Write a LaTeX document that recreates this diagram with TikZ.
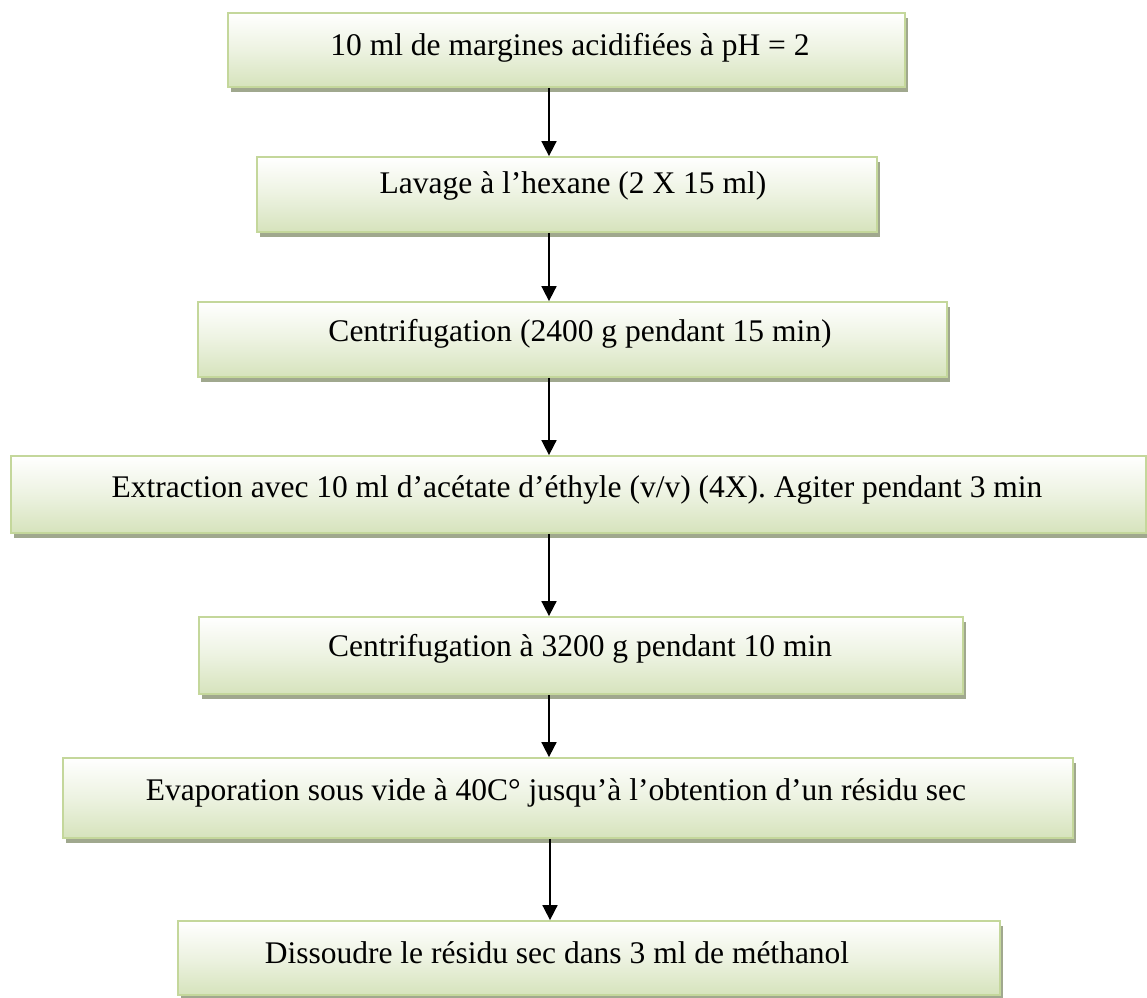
\documentclass[tikz,border=0pt]{standalone}
\usepackage{fontspec}
\setmainfont{Liberation Serif}
\usetikzlibrary{arrows.meta,shadows}
\definecolor{boxborder}{RGB}{196,215,155}
\definecolor{boxbottom}{RGB}{214,227,188}
\definecolor{boxtop}{RGB}{255,255,255}
\definecolor{shadowc}{RGB}{160,168,142}
\tikzset{
  stepbox/.style={rectangle, draw=boxborder, line width=1.8pt, inner sep=0pt,
    top color=boxtop, bottom color=boxbottom, middle color=boxtop!55!boxbottom,
    drop shadow={shadow xshift=3pt, shadow yshift=-5pt, fill=shadowc, opacity=1}},
  steptext/.style={anchor=base, inner sep=0pt, font=\fontsize{31.5}{36}\selectfont},
  flowarrow/.style={line width=1.7pt, -{Triangle[length=15pt,width=15pt]}}
}
\begin{document}
\begin{tikzpicture}[x=1pt,y=-1pt]
\useasboundingbox (0,0) rectangle (1147,997);
% boxes: center x, center y, width, height
\node[stepbox, minimum width=677pt, minimum height=74pt] (b1) at (566.5,50) {};
\node[stepbox, minimum width=620pt, minimum height=75pt] (b2) at (567,194.5) {};
\node[stepbox, minimum width=749pt, minimum height=75pt] (b3) at (572.5,339.5) {};
\node[stepbox, minimum width=1135pt, minimum height=77pt] (b4) at (578.5,494.5) {};
\node[stepbox, minimum width=764pt, minimum height=77pt] (b5) at (581,655.5) {};
\node[stepbox, minimum width=1010pt, minimum height=80pt] (b6) at (568,798) {};
\node[stepbox, minimum width=822pt, minimum height=74pt] (b7) at (589,958) {};
% texts
\node[steptext] (t1) at (570,55) {10 ml de margines acidifiées à pH = 2};
\node[steptext] (t2) at (573,193) {Lavage à l’hexane (2 X 15 ml)};
\node[steptext] (t3) at (580,341) {Centrifugation (2400 g pendant 15 min)};
\node[steptext] (t4) at (577,497) {Extraction avec 10 ml d’acétate d’éthyle (v/v) (4X). Agiter pendant 3 min};
\node[steptext] (t5) at (580,656) {Centrifugation à 3200 g pendant 10 min};
\node[steptext] (t6) at (556,800) {Evaporation sous vide à 40C° jusqu’à l’obtention d’un résidu sec};
\node[steptext] (t7) at (557,963) {Dissoudre le résidu sec dans 3 ml de méthanol};
% arrows
\coordinate (ax) at (549,0);
\coordinate (bx) at (550,0);
\draw[flowarrow] (b1.south -| ax) -- (b2.north -| ax);
\draw[flowarrow] (b2.south -| ax) -- (b3.north -| ax);
\draw[flowarrow] (b3.south -| ax) -- (b4.north -| ax);
\draw[flowarrow] (b4.south -| ax) -- (b5.north -| ax);
\draw[flowarrow] (b5.south -| ax) -- (b6.north -| ax);
\draw[flowarrow] (b6.south -| bx) -- (b7.north -| bx);
\end{tikzpicture}
\end{document}
